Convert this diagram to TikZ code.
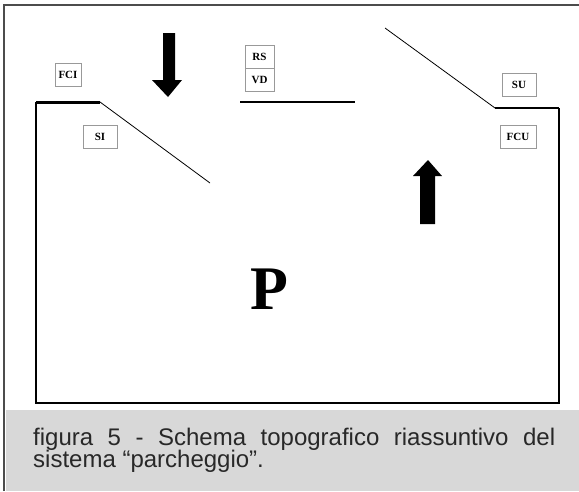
\documentclass[tikz,border=0pt]{standalone}
\usepackage{fontspec}
\setmainfont{Liberation Serif}
\newfontfamily\capfont{Liberation Sans}
\usepackage{xcolor}
\usepackage{tikz}

\definecolor{capgray}{RGB}{216,216,216}
\definecolor{captext}{RGB}{40,40,40}
\tikzset{
  tag/.style={draw=gray!80, line width=0.6pt, fill=white, inner sep=0pt,
    minimum height=23pt, font=\bfseries\fontsize{11}{12}\selectfont},
  wall/.style={line width=2pt, line join=miter},
  ramp/.style={line width=0.8pt},
  captext/.style={anchor=base west, inner sep=0pt, text=captext,
    font=\capfont\fontsize{24}{24}\selectfont},
}

\begin{document}
\begin{tikzpicture}[x=1pt, y=-1pt]
    \useasboundingbox (0,0) rectangle (579,491);

    % Page frame and caption band
    \fill[capgray] (6,410) rectangle (579,491);
    \draw[line width=2pt, gray!60!black] (4,491) -- (4,5) -- (579,5);

    % Car park outline
    \coordinate (tl) at (36,102);
    \coordinate (in) at (100,102);
    \coordinate (tr) at (559,108);
    \coordinate (out) at (495,108);
    \draw[wall] (tl) -- (36,403) -- (559,403) -- (tr);
    \draw[line width=3pt] (tl) -- (in);
    \draw[wall] (tr) -- (out);

    % Ramps
    \coordinate (inend) at (210,183);
    \coordinate (outend) at (385,28);
    \draw[ramp] (in) -- (inend);
    \draw[ramp] (out) -- (outend);

    % Cash desk line
    \coordinate (cl) at (240,102);
    \coordinate (cr) at (355,102);
    \draw[wall] (cl) -- (cr);

    % Flow arrows
    \fill (163,33) -- (175,33) -- (175,80) -- (182,80) -- (168,97)
          -- (152,80) -- (163,80) -- cycle;
    \fill (420,224) -- (435,224) -- (435,176) -- (442,176) -- (428,160)
          -- (413,176) -- (420,176) -- cycle;

    % Labels
    \node[tag, minimum width=26pt] (fci) at (68,74.5) {FCI};
    \node[tag, minimum width=34pt] (si) at (100,137) {SI};
    \node[tag, minimum width=29pt] (rs) at (259.5,56.5) {RS};
    \node[tag, minimum width=29pt] (vd) at (259.5,79.5) {VD};
    \node[tag, minimum width=34pt] (su) at (519,85) {SU};
    \node[tag, minimum width=36pt] (fcu) at (518,136.5) {FCU};

    \node[font=\bfseries\fontsize{62}{62}\selectfont] (park) at (269,289) {P};

    % Caption
    \node[captext] (cap1) at (33,445)
          {\makebox[522pt][s]{figura 5 - Schema topografico riassuntivo del}};
    \node[captext] (cap2) at (33,467) {sistema “parcheggio”.};
\end{tikzpicture}
\end{document}
